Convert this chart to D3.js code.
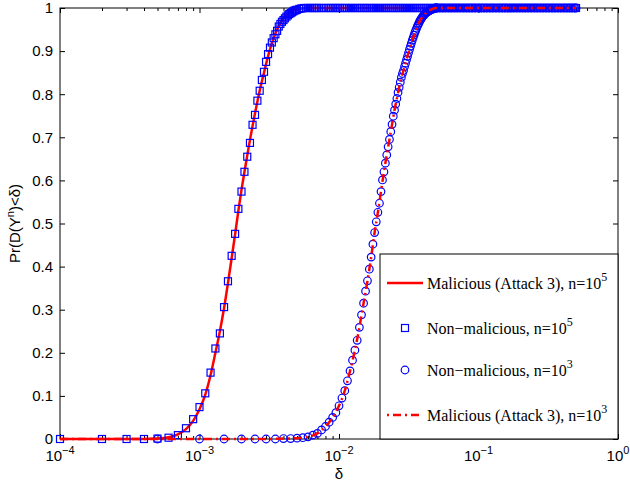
<!DOCTYPE html>
<html>
<head>
<meta charset="utf-8">
<script src="https://cdn.jsdelivr.net/npm/d3@7"></script>
<style>
  body { margin: 0; background: #fff; }
  svg text { font-family: "Liberation Sans", Arial, sans-serif; font-size: 15px; fill: #000; }
  .legend text { font-family: "Liberation Serif", "Times New Roman", serif; font-size: 16px; }
</style>
</head>
<body>
<svg id="chart" width="630" height="487"></svg>
<script>
// Malicious (Attack 3), n=10^5 -- red solid line
const mal5Delta = [1e-4, 2e-4, 3e-4, 4e-4, 5e-4, 6e-4, 7e-4, 8e-4, 9e-4, 1.0e-3, 1.1e-3, 1.2e-3, 1.3e-3, 1.4e-3,
  1.5e-3, 1.6e-3, 1.7e-3, 1.8e-3, 1.9e-3, 2.0e-3, 2.1e-3, 2.2e-3, 2.3e-3, 2.4e-3, 2.5e-3, 2.6e-3, 2.7e-3, 2.8e-3,
  2.9e-3, 3.0e-3, 3.2e-3, 3.4e-3, 3.6e-3, 3.8e-3, 4.0e-3, 4.3e-3, 4.6e-3, 5.0e-3, 5.5e-3, 6.0e-3, 0.01, 0.1, 0.5];
const mal5Prob = [0, 0, 0, 0, 0.001, 0.004, 0.011, 0.023, 0.042, 0.069, 0.103, 0.148, 0.2, 0.25,
  0.304, 0.362, 0.42, 0.475, 0.53, 0.578, 0.62, 0.658, 0.694, 0.726, 0.756, 0.783, 0.808, 0.83,
  0.85, 0.87, 0.904, 0.93, 0.95, 0.965, 0.976, 0.987, 0.993, 0.997, 0.999, 1, 1, 1, 1];

// Non-malicious, n=10^5 -- blue squares
const non5Delta = [1e-4, 2e-4, 3e-4, 4e-4, 5e-4, 6e-4, 7e-4, 8e-4, 9e-4, 1.0e-3, 1.1e-3, 1.2e-3, 1.3e-3, 1.4e-3,
  1.5e-3, 1.6e-3, 1.7e-3, 1.8e-3, 1.9e-3, 2.0e-3, 2.1e-3, 2.2e-3, 2.3e-3, 2.4e-3, 2.5e-3, 2.6e-3, 2.7e-3, 2.8e-3,
  2.9e-3, 3.0e-3, 3.1e-3, 3.2e-3, 3.3e-3, 3.4e-3, 3.5e-3, 3.6e-3, 3.7e-3, 3.8e-3, 3.9e-3, 4.0e-3, 4.1e-3, 4.2e-3,
  4.3e-3, 4.4e-3, 4.5e-3, 4.6e-3, 4.7e-3, 4.8e-3, 4.9e-3, 5.0e-3, 5.2e-3, 5.4e-3];
const non5Prob = [0, 0, 0, 0, 0.001, 0.003, 0.009, 0.025, 0.046, 0.074, 0.106, 0.154, 0.21, 0.245,
  0.306, 0.366, 0.425, 0.476, 0.534, 0.574, 0.62, 0.655, 0.687, 0.729, 0.752, 0.785, 0.808, 0.833,
  0.852, 0.875, 0.893, 0.908, 0.92, 0.93, 0.939, 0.947, 0.957, 0.963, 0.968, 0.972, 0.976, 0.98,
  0.983, 0.986, 0.988, 0.99, 0.992, 0.994, 0.995, 0.996, 0.998, 0.999];
// squares sitting on Pr = 1
const non5FlatDelta = [0.0056, 0.0058, 0.006, 0.0062, 0.0064, 0.0066, 0.0068, 0.007, 0.0072, 0.0075, 0.0078,
  0.0081, 0.0084, 0.0087, 0.009, 0.0093, 0.0096, 0.0099, 0.0102, 0.0106, 0.011, 0.0114, 0.0118, 0.0122, 0.0126,
  0.013, 0.0135, 0.014, 0.0145, 0.015, 0.0155, 0.016, 0.0166, 0.0172, 0.0178, 0.0184, 0.019, 0.0197, 0.0204,
  0.0211, 0.0218, 0.0226, 0.0234, 0.0242, 0.025, 0.0259, 0.0268, 0.0277, 0.0287, 0.0297, 0.0307, 0.0318, 0.0329,
  0.034, 0.0352, 0.0364, 0.0377, 0.039, 0.0404, 0.0418, 0.0432, 0.0447, 0.0463, 0.0479, 0.0496, 0.0515, 0.054,
  0.0567, 0.0595, 0.0625, 0.0656, 0.0689, 0.0723, 0.076, 0.08, 0.084, 0.088, 0.092, 0.097, 0.102, 0.107, 0.112,
  0.118, 0.124, 0.13, 0.137, 0.144, 0.151, 0.158, 0.166, 0.174, 0.183, 0.192, 0.202, 0.212, 0.222, 0.233, 0.245,
  0.257, 0.27, 0.284, 0.298, 0.313, 0.328, 0.345, 0.362, 0.38, 0.4, 0.42, 0.44, 0.46, 0.48, 0.5];

// Non-malicious, n=10^3 -- blue circles
const non3Delta = [0.0005, 0.001, 0.0015, 0.002, 0.0025, 0.003, 0.0035, 0.004, 0.0045, 0.005, 0.0055, 0.006,
  0.0065, 0.007, 0.0075, 0.008, 0.0085, 0.009, 0.0095, 0.01, 0.0105, 0.011, 0.0115, 0.012, 0.0125, 0.013, 0.0135,
  0.014, 0.0145, 0.015, 0.0155, 0.016, 0.0165, 0.017, 0.0175, 0.018, 0.0185, 0.019, 0.0195, 0.02, 0.0205, 0.021,
  0.0215, 0.022, 0.0225, 0.023, 0.0235, 0.024, 0.0245, 0.025, 0.0255, 0.026, 0.0265, 0.027, 0.0275, 0.028, 0.0285,
  0.029, 0.0295, 0.03, 0.0305, 0.031, 0.0315, 0.032, 0.0325, 0.033, 0.0335, 0.034, 0.0345, 0.035, 0.0355, 0.036,
  0.0365, 0.037, 0.0375, 0.038, 0.0385, 0.039, 0.0395, 0.04, 0.0405, 0.041, 0.0415, 0.042, 0.0425, 0.043, 0.0435,
  0.044, 0.0445, 0.045, 0.0455, 0.046, 0.0465, 0.047, 0.0475, 0.048, 0.0485, 0.049, 0.0495, 0.05];
const non3Prob = [0, 0, 0, 0, 0, 0, 0, 0.001, 0.001, 0.002, 0.003, 0.005,
  0.009, 0.013, 0.021, 0.029, 0.039, 0.05, 0.061, 0.077, 0.095, 0.112, 0.135, 0.158, 0.183, 0.206, 0.229,
  0.259, 0.288, 0.315, 0.343, 0.367, 0.394, 0.422, 0.452, 0.479, 0.504, 0.526, 0.547, 0.574, 0.601, 0.62,
  0.64, 0.659, 0.678, 0.695, 0.713, 0.73, 0.749, 0.763, 0.777, 0.79, 0.804, 0.816, 0.828, 0.839, 0.848,
  0.855, 0.864, 0.872, 0.88, 0.888, 0.896, 0.904, 0.911, 0.918, 0.925, 0.931, 0.937, 0.943, 0.948, 0.953,
  0.958, 0.962, 0.966, 0.97, 0.973, 0.976, 0.979, 0.981, 0.983, 0.985, 0.987, 0.989, 0.99, 0.991, 0.992,
  0.993, 0.994, 0.995, 0.996, 0.997, 0.997, 0.998, 0.998, 0.999, 0.999, 1, 1, 1];
// circles sitting on Pr = 1
const non3FlatDelta = [0.0505, 0.0528, 0.0553, 0.058, 0.061, 0.064, 0.0672, 0.0706, 0.0741, 0.078, 0.082, 0.086,
  0.09, 0.0945, 0.0995, 0.1045, 0.1095, 0.115, 0.121, 0.127, 0.1335, 0.1405, 0.1475, 0.1545, 0.162, 0.17, 0.1785,
  0.1875, 0.197, 0.207, 0.217, 0.2275, 0.239, 0.251, 0.2635, 0.277, 0.291, 0.3055, 0.3205, 0.3365, 0.3535, 0.371,
  0.39, 0.41, 0.43, 0.45, 0.47, 0.49, 0.5];

// Malicious (Attack 3), n=10^3 -- red dash-dot line
const mal3Delta = [1e-4, 0.001, 0.003, 0.004, 0.005, 0.006, 0.007, 0.008, 0.009, 0.01, 0.011, 0.012, 0.013, 0.014,
  0.015, 0.016, 0.017, 0.018, 0.019, 0.02, 0.021, 0.022, 0.023, 0.024, 0.025, 0.026, 0.027, 0.028, 0.029, 0.03,
  0.032, 0.034, 0.036, 0.038, 0.04, 0.043, 0.046, 0.05, 0.1, 0.5];
const mal3Prob = [0, 0, 0, 0.001, 0.002, 0.005, 0.013, 0.029, 0.05, 0.077, 0.112, 0.158, 0.206, 0.259,
  0.315, 0.367, 0.422, 0.479, 0.526, 0.574, 0.62, 0.659, 0.695, 0.73, 0.763, 0.79, 0.816, 0.839, 0.855, 0.872,
  0.904, 0.931, 0.953, 0.97, 0.981, 0.991, 0.997, 1, 1, 1];

const xMajor = [-4, -3, -2, -1, 0];
const yTicks = [0, 0.1, 0.2, 0.3, 0.4, 0.5, 0.6, 0.7, 0.8, 0.9, 1];
const legendLabels = [
  { text: "Malicious (Attack 3), n=10", sup: "5", kind: "solid" },
  { text: "Non\u2212malicious, n=10", sup: "5", kind: "square" },
  { text: "Non\u2212malicious, n=10", sup: "3", kind: "circle" },
  { text: "Malicious (Attack 3), n=10", sup: "3", kind: "dashdot" }
];

const RED = "#ff0000", BLUE = "#0000ff";
const margin = { top: 8, left: 60 };
const width = 558, height = 431;

const svg = d3.select("#chart");
const g = svg.append("g").attr("transform", `translate(${margin.left},${margin.top})`);

const x = d3.scaleLog().domain([1e-4, 1]).range([0, width]);
const y = d3.scaleLinear().domain([0, 1]).range([height, 0]);

// minor ticks 2..9 of each decade
const xMinor = [];
xMajor.slice(0, -1).forEach(e => {
  for (let k = 2; k <= 9; k++) xMinor.push(k * Math.pow(10, e));
});
const xMajorVals = xMajor.map(e => Math.pow(10, e));

// axes (ticks pointing inward, MATLAB style)
function tickAxis(axis, vals, size, tr) {
  const a = g.append("g").attr("transform", tr)
    .call(axis.tickValues(vals).tickSizeInner(-size).tickSizeOuter(0).tickFormat(""));
  a.select("path.domain").remove();
  a.selectAll("line").attr("stroke", "#000");
  return a;
}
tickAxis(d3.axisBottom(x), xMajorVals, 5, `translate(0,${height})`);
tickAxis(d3.axisBottom(x), xMinor, 3, `translate(0,${height})`);
tickAxis(d3.axisTop(x), xMajorVals, 5, "translate(0,0)");
tickAxis(d3.axisTop(x), xMinor, 3, "translate(0,0)");
tickAxis(d3.axisRight(y), yTicks, 5, `translate(${width},0)`);

const yAxis = g.append("g")
  .call(d3.axisLeft(y).tickValues(yTicks).tickSizeInner(-5).tickSizeOuter(0).tickPadding(7)
    .tickFormat(d => d3.format("~g")(d)));
yAxis.select("path.domain").remove();
yAxis.selectAll("line").attr("stroke", "#000");
yAxis.selectAll("text").attr("font-size", null).attr("font-family", null);

// x tick labels with superscript exponent
const xl = g.append("g").selectAll("text")
  .data(xMajor).enter().append("text")
  .attr("x", d => x(Math.pow(10, d)))
  .attr("y", height + 22)
  .attr("text-anchor", "middle");
xl.append("tspan").text("10");
xl.append("tspan").attr("dy", -7).style("font-size", "11px").text(d => d === 0 ? "0" : "\u2212" + Math.abs(d));

// plot box
g.append("rect").attr("width", width).attr("height", height)
  .attr("fill", "none").attr("stroke", "#000").attr("stroke-width", 1);

// axis labels
g.append("text").attr("x", x(1e-2)).attr("y", height + 40).attr("text-anchor", "middle").text("\u03b4");
const yl = g.append("text").attr("transform", `translate(-40,${height / 2}) rotate(-90)`)
  .attr("text-anchor", "middle");
yl.append("tspan").text("Pr(D(Y");
yl.append("tspan").attr("dy", -6).style("font-size", "11px").text("n");
yl.append("tspan").attr("dy", 6).text(")<\u03b4)");

const line = d3.line().x(d => x(d[0])).y(d => y(d[1])).curve(d3.curveMonotoneX);

// series, in MATLAB plot order
g.append("path").datum(d3.zip(mal5Delta, mal5Prob))
  .attr("d", line).attr("fill", "none").attr("stroke", RED).attr("stroke-width", 2.5);

const squares = d3.zip(non5Delta, non5Prob).concat(non5FlatDelta.map(d => [d, 1]));
g.append("g").selectAll("rect").data(squares).enter().append("rect")
  .attr("x", d => x(d[0]) - 3.5).attr("y", d => y(d[1]) - 3.5)
  .attr("width", 7).attr("height", 7)
  .attr("fill", "none").attr("stroke", BLUE).attr("stroke-width", 1.2);

const circles = d3.zip(non3Delta, non3Prob).concat(non3FlatDelta.map(d => [d, 1]));
g.append("g").selectAll("circle").data(circles).enter().append("circle")
  .attr("cx", d => x(d[0])).attr("cy", d => y(d[1])).attr("r", 3.8)
  .attr("fill", "none").attr("stroke", BLUE).attr("stroke-width", 1.2);

g.append("path").datum(d3.zip(mal3Delta, mal3Prob))
  .attr("d", line).attr("fill", "none").attr("stroke", RED).attr("stroke-width", 2.5)
  .attr("stroke-dasharray", "8,4,2,4");

// legend
const lg = svg.append("g").attr("class", "legend");
lg.append("rect").attr("x", 380).attr("y", 254).attr("width", 238).attr("height", 185)
  .attr("fill", "#fff").attr("stroke", "#000").attr("stroke-width", 1);
const rowY = [283, 328, 370, 415];
legendLabels.forEach((d, i) => {
  const yy = rowY[i];
  if (d.kind === "solid" || d.kind === "dashdot") {
    lg.append("line").attr("x1", 387).attr("x2", 423).attr("y1", yy).attr("y2", yy)
      .attr("stroke", RED).attr("stroke-width", 2.5)
      .attr("stroke-dasharray", d.kind === "dashdot" ? "2,4,8,4" : null);
  } else if (d.kind === "square") {
    lg.append("rect").attr("x", 405 - 3.5).attr("y", yy - 3.5).attr("width", 7).attr("height", 7)
      .attr("fill", "none").attr("stroke", BLUE).attr("stroke-width", 1.2);
  } else {
    lg.append("circle").attr("cx", 405).attr("cy", yy).attr("r", 3.8)
      .attr("fill", "none").attr("stroke", BLUE).attr("stroke-width", 1.2);
  }
  const t = lg.append("text").attr("x", 427).attr("y", yy + 6);
  t.append("tspan").text(d.text);
  t.append("tspan").attr("dy", -8).style("font-size", "12px").text(d.sup);
});
</script>
</body>
</html>
